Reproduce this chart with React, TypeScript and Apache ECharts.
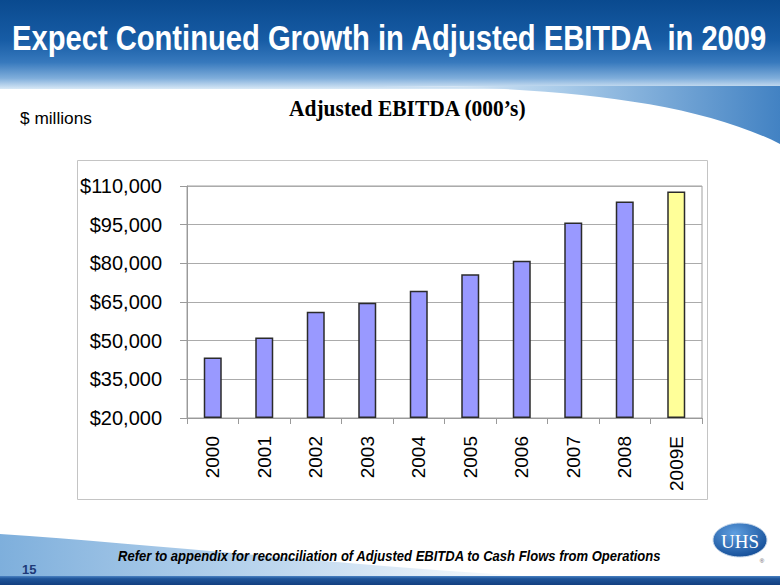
import React, { useEffect, useRef } from "react";
import * as echarts from "echarts";

// ---- data ----
const categories = ["2000", "2001", "2002", "2003", "2004", "2005", "2006", "2007", "2008", "2009E"];
const ebitda = [43500, 51200, 61200, 64700, 69400, 75800, 81000, 95800, 104000, 107900];
const forecastIndex = 9;
const yTickValues = [20000, 35000, 50000, 65000, 80000, 95000, 110000];
const yTickLabels = ["$20,000", "$35,000", "$50,000", "$65,000", "$80,000", "$95,000", "$110,000"];

const slideTitle = "Expect Continued Growth in Adjusted EBITDA  in 2009";
const chartTitle = "Adjusted EBITDA (000\u2019s)";
const unitNote = "$ millions";
const footNote = "Refer to appendix for reconciliation of Adjusted EBITDA to Cash Flows from Operations";
const pageNumber = "15";

function fitScale(text: string, font: string, target: number): number {
  const ctx = document.createElement("canvas").getContext("2d");
  if (!ctx) return 1;
  ctx.font = font;
  const w = ctx.measureText(text).width;
  return w > 0 ? target / w : 1;
}

let registered = false;
function registerShapes() {
  if (registered) return;
  registered = true;
  echarts.graphic.registerShape(
    "headerSwoosh",
    echarts.graphic.extendPath("M380 86 C 540 86 690 98 780 144 L 780 86 Z", {})
  );
  echarts.graphic.registerShape(
    "footerSwoosh",
    echarts.graphic.extendPath("M0 534 C 150 544 330 564 540 577 L 0 577 Z", {})
  );
}

export default function App() {
  const ref = useRef<HTMLDivElement>(null);

  useEffect(() => {
    document.body.style.margin = "0";
    if (!ref.current) return;
    registerShapes();
    const chart = echarts.init(ref.current, undefined, { renderer: "svg" });

    const base = yTickValues[0];
    const interval = yTickValues[1] - yTickValues[0];
    const axisMax = yTickValues[yTickValues.length - 1] - base;

    const titleFont = 'bold 36px "Liberation Sans"';
    const chartTitleFont = 'bold 24px "Liberation Serif"';
    const unitFont = '17px "Liberation Sans"';
    const footFont = 'italic bold 14px "Liberation Sans"';

    const textEl = (
      text: string,
      font: string,
      x: number,
      y: number,
      targetW: number | null,
      fill: string,
      extra: any = {}
    ) => ({
      type: "text",
      x,
      y,
      scaleX: targetW ? fitScale(text, font, targetW) : 1,
      silent: true,
      z: 10,
      style: {
        text,
        font,
        fill,
        align: "left",
        textAlign: "left",
        verticalAlign: "middle",
        textVerticalAlign: "middle",
        ...extra,
      },
    });

    const option: any = {
      animation: false,
      backgroundColor: "#ffffff",
      grid: {
        left: 187,
        right: 78,
        top: 186,
        bottom: 167,
        show: true,
        borderColor: "#a0a0a0",
        borderWidth: 1,
        backgroundColor: "transparent",
      },
      xAxis: {
        type: "category",
        data: categories,
        boundaryGap: true,
        axisLine: { show: true, lineStyle: { color: "#9a9a9a", width: 1 } },
        axisTick: { show: true, inside: false, length: 6, interval: 0, lineStyle: { color: "#9a9a9a" } },
        axisLabel: {
          interval: 0,
          rotate: 90,
          margin: 18,
          fontSize: 19,
          color: "#000000",
          fontFamily: "Liberation Sans",
        },
        splitLine: { show: false },
      },
      yAxis: {
        type: "value",
        min: 0,
        max: axisMax,
        interval,
        axisLine: { show: true, lineStyle: { color: "#9a9a9a", width: 1 } },
        axisTick: { show: true, inside: false, length: 7, lineStyle: { color: "#9a9a9a" } },
        axisLabel: {
          margin: 25,
          fontSize: 20,
          color: "#000000",
          fontFamily: "Liberation Sans",
          formatter: (v: number) => {
            const i = yTickValues.indexOf(v + base);
            return i >= 0 ? yTickLabels[i] : "";
          },
        },
        splitLine: { show: true, lineStyle: { color: "#ababab", width: 1 } },
      },
      series: [
        {
          type: "bar",
          barWidth: 18,
          data: ebitda.map((v, i) => ({
            value: v - base,
            itemStyle: { color: i === forecastIndex ? "#ffff99" : "#9999ff" },
          })),
          itemStyle: { borderColor: "#2b2b2b", borderWidth: 1.5 },
          z: 3,
        },
      ],
      graphic: [
        {
          type: "rect",
          silent: true,
          z: -10,
          shape: { x: 0, y: 0, width: 780, height: 89 },
          style: {
            fill: new echarts.graphic.LinearGradient(0, 0, 0, 1, [
              { offset: 0, color: "#0a4a8f" },
              { offset: 0.45, color: "#175ca5" },
              { offset: 0.7, color: "#3779bd" },
              { offset: 0.88, color: "#80aedb" },
              { offset: 1, color: "#d8e8f6" },
            ]),
          },
        },
        {
          type: "headerSwoosh",
          silent: true,
          z: -9,
          x: 0,
          y: 0,
          style: {
            fill: new echarts.graphic.LinearGradient(0, 0, 1, 0, [
              { offset: 0, color: "#f4f8fc" },
              { offset: 0.45, color: "#a9cbe9" },
              { offset: 1, color: "#4282c3" },
            ]),
          },
        },
        {
          type: "footerSwoosh",
          silent: true,
          z: -9,
          x: 0,
          y: 0,
          style: {
            fill: new echarts.graphic.LinearGradient(0, 0, 1, 0, [
              { offset: 0, color: "#7eafdc" },
              { offset: 0.5, color: "#bcd6ee" },
              { offset: 1, color: "#ffffff" },
            ]),
          },
        },
        {
          type: "rect",
          silent: true,
          z: -8,
          shape: { x: 0, y: 576, width: 780, height: 9 },
          style: {
            fill: new echarts.graphic.LinearGradient(0, 0, 0, 1, [
              { offset: 0, color: "#4a82c2" },
              { offset: 0.3, color: "#1f559a" },
              { offset: 1, color: "#123f80" },
            ]),
          },
        },
        {
          type: "rect",
          silent: true,
          z: -5,
          shape: { x: 77.5, y: 160.5, width: 630, height: 339 },
          style: { fill: "transparent", stroke: "#c4c4c4", lineWidth: 1 },
        },
        {
          type: "ellipse",
          silent: true,
          z: 5,
          shape: { cx: 740, cy: 540, rx: 27, ry: 17 },
          style: {
            fill: new echarts.graphic.RadialGradient(0.4, 0.3, 0.8, [
              { offset: 0, color: "#5f9fe0" },
              { offset: 1, color: "#0c4590" },
            ]),
            stroke: "#c9d9eb",
            lineWidth: 1,
          },
        },
        {
          type: "text",
          silent: true,
          z: 6,
          x: 740,
          y: 541,
          style: {
            text: "UHS",
            font: '19px "Liberation Serif"',
            fill: "#ffffff",
            align: "center",
            textAlign: "center",
            verticalAlign: "middle",
            textVerticalAlign: "middle",
          },
        },
        {
          type: "text",
          silent: true,
          z: 6,
          x: 762,
          y: 561,
          style: {
            text: "\u00ae",
            font: '6px "Liberation Sans"',
            fill: "#555555",
            align: "center",
            textAlign: "center",
            verticalAlign: "middle",
            textVerticalAlign: "middle",
          },
        },
        textEl(slideTitle, titleFont, 12, 37, 757, "#ffffff", {
          textShadowColor: "#241d63",
          textShadowOffsetX: 2,
          textShadowOffsetY: 2,
          textShadowBlur: 0,
        }),
        textEl(unitNote, unitFont, 20, 118, 72, "#000000"),
        textEl(chartTitle, chartTitleFont, 289, 108, 238, "#000000"),
        textEl(footNote, footFont, 118, 556, 544, "#000000"),
        textEl(pageNumber, 'bold 13px "Liberation Sans"', 22, 569, null, "#1e3a78"),
      ],
    };

    chart.setOption(option);
    return () => {
      chart.dispose();
    };
  }, []);

  return <div ref={ref} style={{ width: 780, height: 585 }} />;
}
